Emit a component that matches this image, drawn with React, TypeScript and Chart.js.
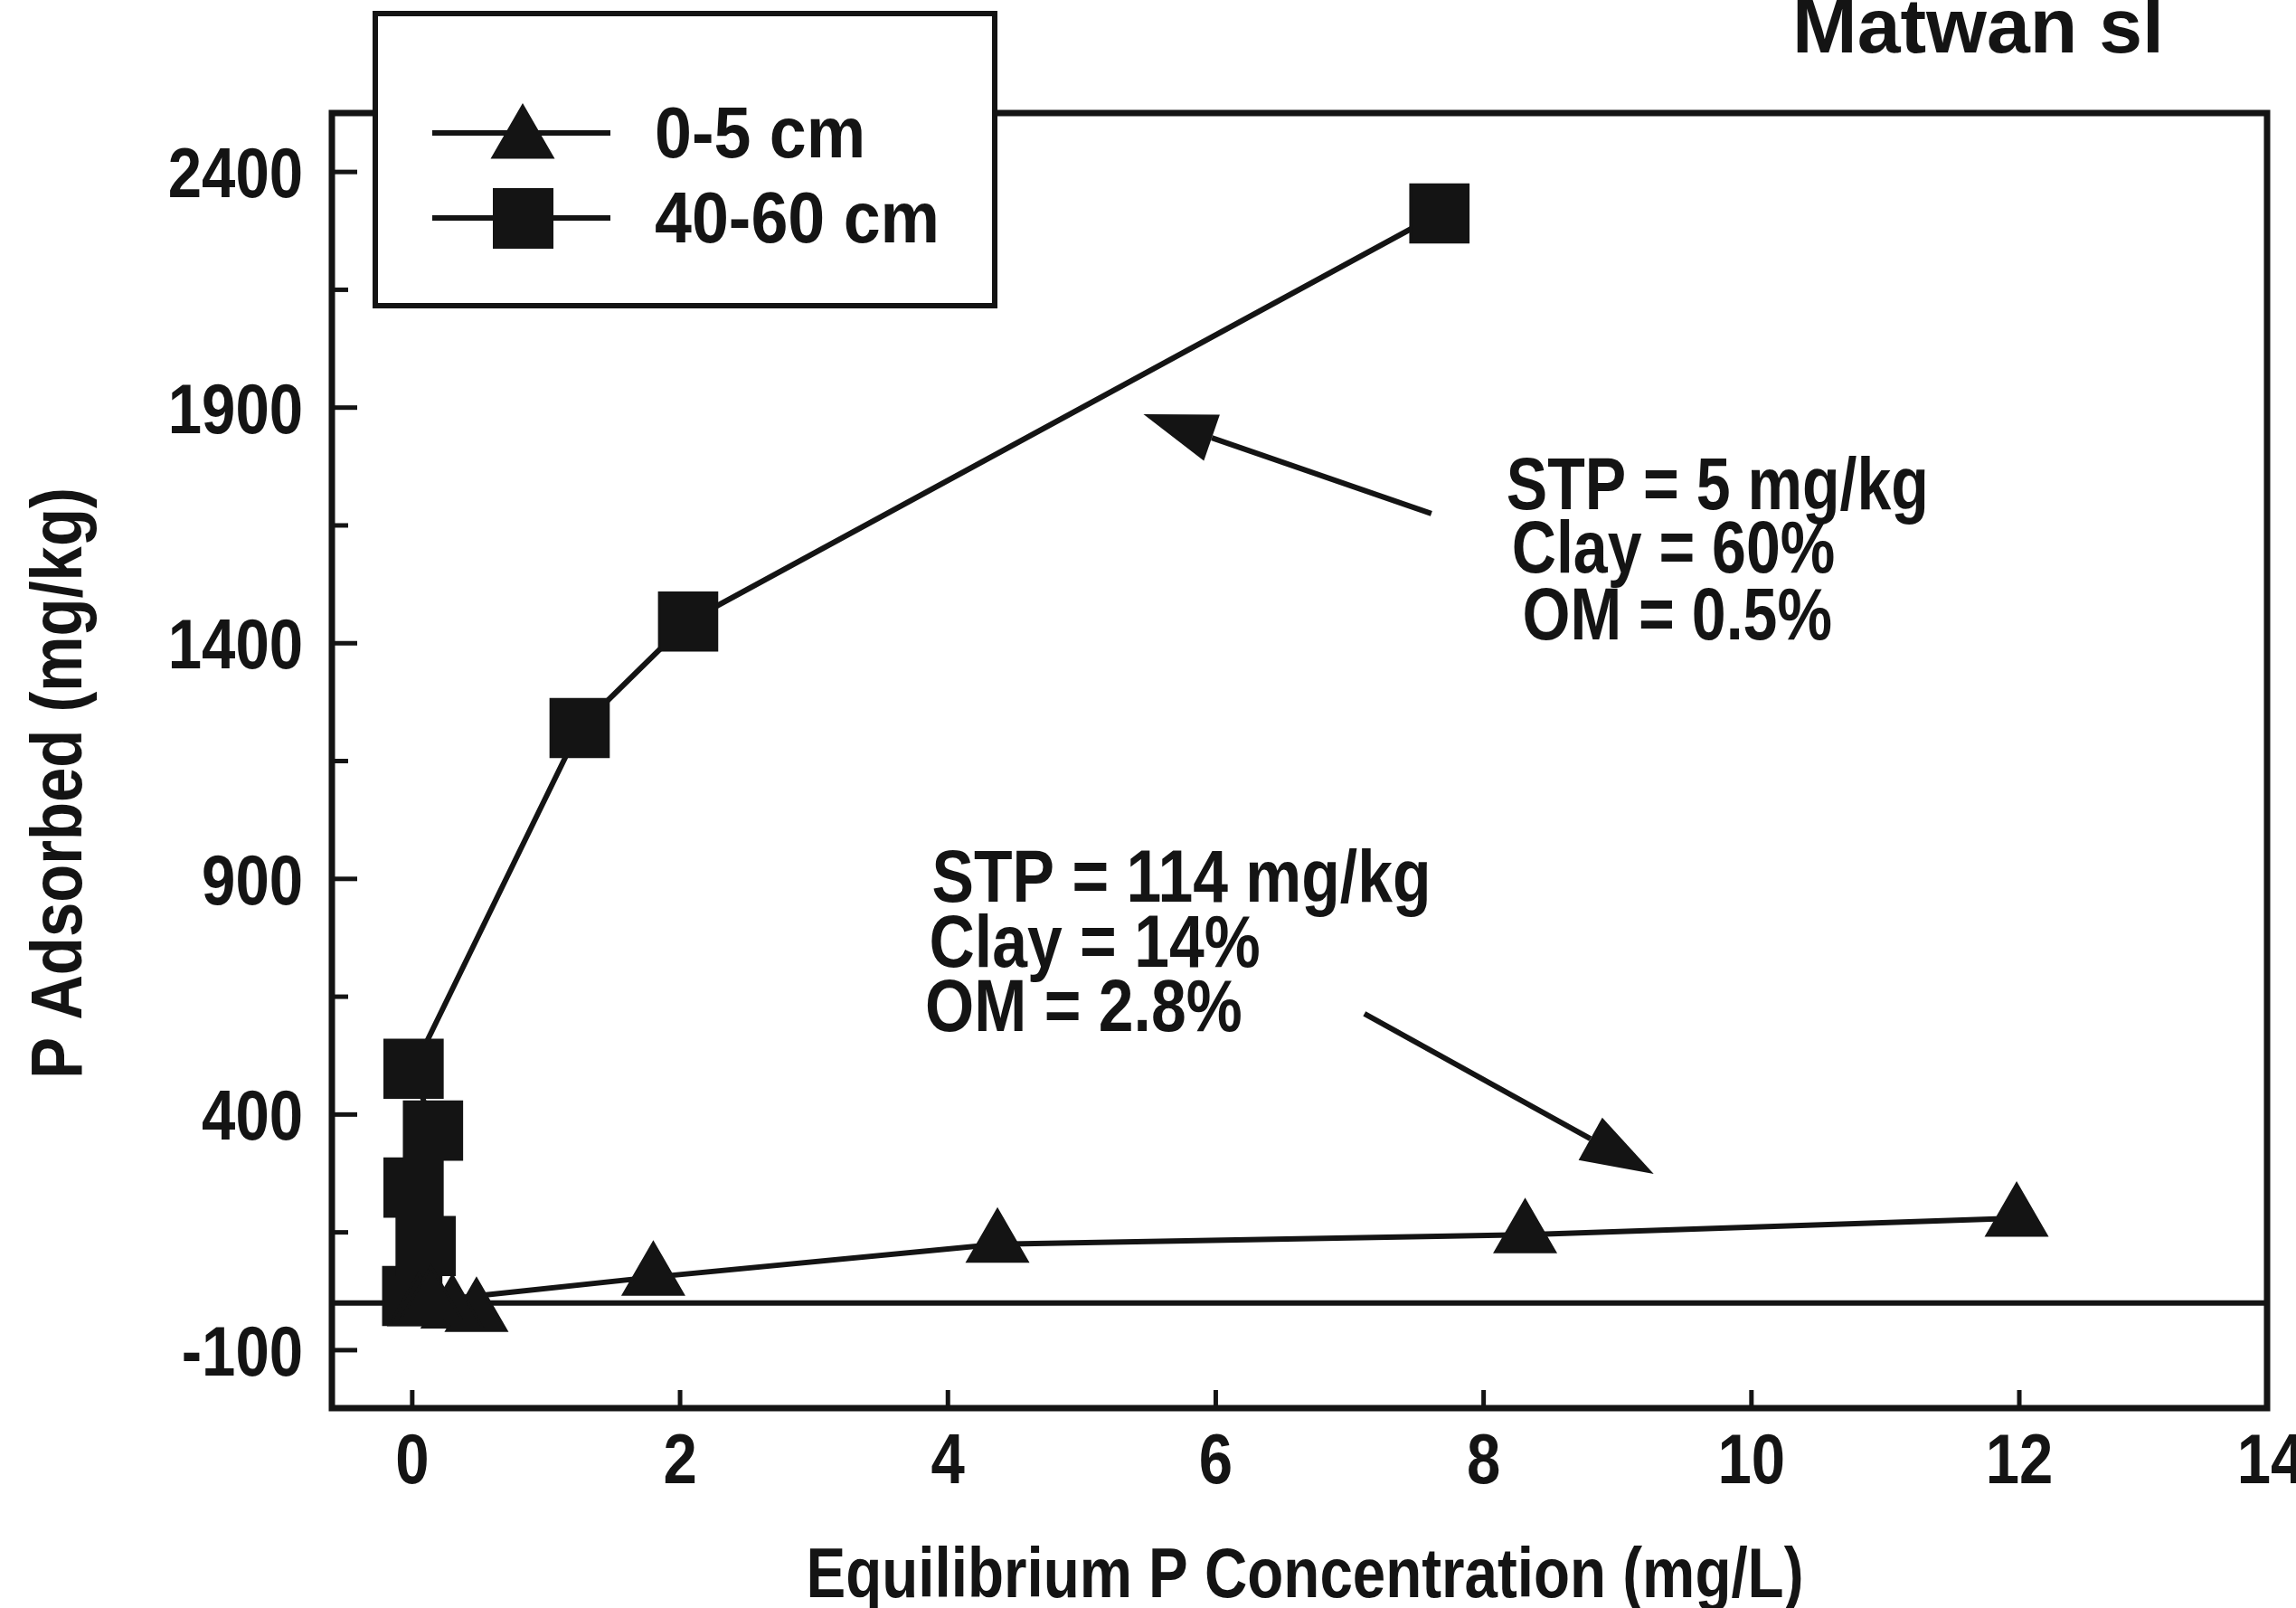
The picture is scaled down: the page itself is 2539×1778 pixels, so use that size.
import React, { useEffect, useRef } from 'react';
import { Chart, registerables } from 'chart.js';

Chart.register(...registerables);

// ---------- data ----------
const chartTitle = 'Matwan sl';
const xAxisTitle = 'Equilibrium P Concentration (mg/L)';
const yAxisTitle = 'P Adsorbed (mg/kg)';
const seriesLabels = ['0-5 cm', '40-60 cm'];

// 0-5 cm (triangles)
const topsoilX = [0.48, 0.3, 0.05, 0.14, 1.8, 4.37, 8.31, 11.98];
const topsoilY = [-22, -15, -10, 5, 55, 125, 145, 180];

// 40-60 cm (squares)
const subsoilX = [0.0, 0.1, 0.01, 0.155, 0.01, 1.25, 2.06, 7.67];
const subsoilY = [15, 121, 245, 366, 497, 1220, 1446, 2312];

const xTickValues = [0, 2, 4, 6, 8, 10, 12, 14];
const yTickValues = [-100, 400, 900, 1400, 1900, 2400];
const yMinorTickValues = [150, 650, 1150, 1650, 2150];

const noteSubsoil = ['STP = 5 mg/kg', 'Clay = 60%', 'OM = 0.5%'];
const noteTopsoil = ['STP = 114 mg/kg', 'Clay = 14%', 'OM = 2.8%'];

// ---------- styling / layout ----------
const W = 2539;
const H = 1778;
const INK = '#141414';
const FONT = "'Liberation Sans', Arial, sans-serif";

// annotation placement in data coordinates
const noteSubsoilPos = { x: [8.17, 8.21, 8.29], y: [1684, 1550, 1408] };
const noteTopsoilPos = { x: [3.88, 3.86, 3.83], y: [852, 713, 577] };
const arrowSubsoil = { from: [7.61, 1675], to: [5.46, 1886] };
const arrowTopsoil = { from: [7.11, 614], to: [9.27, 274] };

function scaledText(
  ctx: CanvasRenderingContext2D,
  text: string,
  x: number,
  y: number,
  size: number,
  sx: number,
  align: CanvasTextAlign,
  rotate = 0
) {
  ctx.save();
  ctx.translate(x, y);
  if (rotate) ctx.rotate(rotate);
  ctx.scale(sx, 1);
  ctx.font = `bold ${size}px ${FONT}`;
  ctx.textAlign = align;
  ctx.textBaseline = 'alphabetic';
  ctx.fillText(text, 0, 0);
  ctx.restore();
}

function drawArrow(ctx: CanvasRenderingContext2D, x1: number, y1: number, x2: number, y2: number) {
  const ang = Math.atan2(y2 - y1, x2 - x1);
  const headLen = 80;
  const headHalf = 27;
  const bx = x2 - Math.cos(ang) * headLen;
  const by = y2 - Math.sin(ang) * headLen;
  ctx.beginPath();
  ctx.moveTo(x1, y1);
  ctx.lineTo(bx, by);
  ctx.stroke();
  ctx.beginPath();
  ctx.moveTo(x2, y2);
  ctx.lineTo(bx + Math.sin(ang) * headHalf, by - Math.cos(ang) * headHalf);
  ctx.lineTo(bx - Math.sin(ang) * headHalf, by + Math.cos(ang) * headHalf);
  ctx.closePath();
  ctx.fill();
}

function drawTriangle(ctx: CanvasRenderingContext2D, cx: number, cy: number, r: number) {
  ctx.beginPath();
  ctx.moveTo(cx, cy - r);
  ctx.lineTo(cx + r * Math.sin((2 * Math.PI) / 3), cy - r * Math.cos((2 * Math.PI) / 3));
  ctx.lineTo(cx + r * Math.sin((4 * Math.PI) / 3), cy - r * Math.cos((4 * Math.PI) / 3));
  ctx.closePath();
  ctx.fill();
  ctx.stroke();
}

const decorPlugin = {
  id: 'decor',
  beforeDatasetsDraw(chart: any) {
    const { ctx, chartArea: a, scales } = chart;
    const x = scales.x;
    const y = scales.y;
    ctx.save();
    ctx.strokeStyle = INK;
    ctx.fillStyle = INK;
    ctx.lineCap = 'butt';
    // zero reference line
    ctx.lineWidth = 6;
    const y0 = y.getPixelForValue(0);
    ctx.beginPath();
    ctx.moveTo(a.left, y0);
    ctx.lineTo(a.right, y0);
    ctx.stroke();
    // inward ticks
    ctx.lineWidth = 5;
    yTickValues.forEach((v) => {
      const py = y.getPixelForValue(v);
      ctx.beginPath();
      ctx.moveTo(a.left, py);
      ctx.lineTo(a.left + 28, py);
      ctx.stroke();
    });
    yMinorTickValues.forEach((v) => {
      const py = y.getPixelForValue(v);
      ctx.beginPath();
      ctx.moveTo(a.left, py);
      ctx.lineTo(a.left + 18, py);
      ctx.stroke();
    });
    xTickValues.forEach((v) => {
      const px = x.getPixelForValue(v);
      if (px > a.right - 2) return;
      ctx.beginPath();
      ctx.moveTo(px, a.bottom);
      ctx.lineTo(px, a.bottom - 20);
      ctx.stroke();
    });
    // frame
    ctx.lineWidth = 7;
    ctx.strokeRect(a.left, a.top, a.right - a.left, a.bottom - a.top);

    // tick labels
    yTickValues.forEach((v) => {
      scaledText(ctx, String(v), a.left - 32, y.getPixelForValue(v) + 28, 78, 0.86, 'right');
    });
    xTickValues.forEach((v) => {
      const px = Math.min(x.getPixelForValue(v), a.right + 4);
      scaledText(ctx, String(v), px, a.bottom + 83, 78, 0.86, 'center');
    });
    // axis titles
    scaledText(ctx, xAxisTitle, (a.left + a.right) / 2 + 6, 1766, 78, 0.84, 'center');
    scaledText(ctx, yAxisTitle, 90, 866, 80, 0.86, 'center', -Math.PI / 2);
    ctx.restore();
  },
  afterDatasetsDraw(chart: any) {
    const { ctx, scales } = chart;
    const x = scales.x;
    const y = scales.y;
    ctx.save();
    ctx.fillStyle = INK;
    ctx.strokeStyle = INK;

    // legend box
    ctx.fillStyle = '#ffffff';
    ctx.fillRect(415, 15, 685, 323);
    ctx.lineWidth = 6;
    ctx.strokeRect(415, 15, 685, 323);
    ctx.fillStyle = INK;
    ctx.beginPath();
    ctx.moveTo(478, 147);
    ctx.lineTo(675, 147);
    ctx.moveTo(478, 241);
    ctx.lineTo(675, 241);
    ctx.stroke();
    ctx.lineWidth = 3;
    drawTriangle(ctx, 578, 155, 38);
    ctx.fillRect(545, 208, 67, 67);
    scaledText(ctx, seriesLabels[0], 724, 174, 80, 0.92, 'left');
    scaledText(ctx, seriesLabels[1], 724, 268, 80, 0.92, 'left');

    // notes
    noteSubsoil.forEach((t, i) => {
      scaledText(ctx, t, x.getPixelForValue(noteSubsoilPos.x[i]), y.getPixelForValue(noteSubsoilPos.y[i]), 82, 0.83, 'left');
    });
    noteTopsoil.forEach((t, i) => {
      scaledText(ctx, t, x.getPixelForValue(noteTopsoilPos.x[i]), y.getPixelForValue(noteTopsoilPos.y[i]), 82, 0.85, 'left');
    });

    // arrows
    ctx.lineWidth = 6;
    [arrowSubsoil, arrowTopsoil].forEach((ar) => {
      drawArrow(
        ctx,
        x.getPixelForValue(ar.from[0]),
        y.getPixelForValue(ar.from[1]),
        x.getPixelForValue(ar.to[0]),
        y.getPixelForValue(ar.to[1])
      );
    });

    // chart title
    ctx.font = `bold 86px ${FONT}`;
    ctx.textAlign = 'left';
    ctx.textBaseline = 'alphabetic';
    ctx.fillText(chartTitle, 1982, 58);
    ctx.restore();
  },
};

export default function App() {
  const canvasRef = useRef<HTMLCanvasElement | null>(null);

  useEffect(() => {
    const canvas = canvasRef.current;
    if (!canvas) return;

    const chart = new Chart(canvas, {
      type: 'scatter',
      data: {
        datasets: [
          {
            label: seriesLabels[0],
            data: topsoilX.map((v, i) => ({ x: v, y: topsoilY[i] })),
            showLine: true,
            borderColor: INK,
            borderWidth: 6,
            backgroundColor: INK,
            pointStyle: 'triangle',
            pointRadius: 38,
            pointBackgroundColor: INK,
            pointBorderColor: INK,
            pointBorderWidth: 3,
            tension: 0,
          },
          {
            label: seriesLabels[1],
            data: subsoilX.map((v, i) => ({ x: v, y: subsoilY[i] })),
            showLine: true,
            borderColor: INK,
            borderWidth: 6,
            backgroundColor: INK,
            pointStyle: 'rect',
            pointRadius: 45,
            pointBackgroundColor: INK,
            pointBorderColor: INK,
            pointBorderWidth: 3,
            tension: 0,
          },
        ],
      },
      options: {
        responsive: false,
        animation: false,
        events: [],
        devicePixelRatio: 1,
        layout: { autoPadding: false, padding: { left: 0, top: 125, right: 32, bottom: 0 } },
        plugins: {
          legend: { display: false },
          title: { display: false },
          tooltip: { enabled: false },
        },
        scales: {
          x: {
            type: 'linear',
            min: -0.6,
            max: 13.85,
            afterBuildTicks: (s: any) => {
              s.ticks = xTickValues.map((v) => ({ value: v }));
            },
            afterFit: (s: any) => {
              s.height = H - 1557;
            },
            grid: { display: false, drawTicks: false },
            border: { display: false },
            ticks: { display: false },
            title: { display: false },
          },
          y: {
            type: 'linear',
            min: -223,
            max: 2525,
            afterBuildTicks: (s: any) => {
              s.ticks = yTickValues.map((v) => ({ value: v }));
            },
            afterFit: (s: any) => {
              s.width = 367;
            },
            grid: { display: false, drawTicks: false },
            border: { display: false },
            ticks: { display: false },
            title: { display: false },
          },
        },
      },
      plugins: [decorPlugin],
    });
    return () => chart.destroy();
  }, []);

  return (
    <div style={{ position: 'absolute', left: 0, top: 0, width: W, height: H, background: '#fff' }}>
      <canvas ref={canvasRef} width={W} height={H} style={{ display: 'block', width: W, height: H }} />
    </div>
  );
}
